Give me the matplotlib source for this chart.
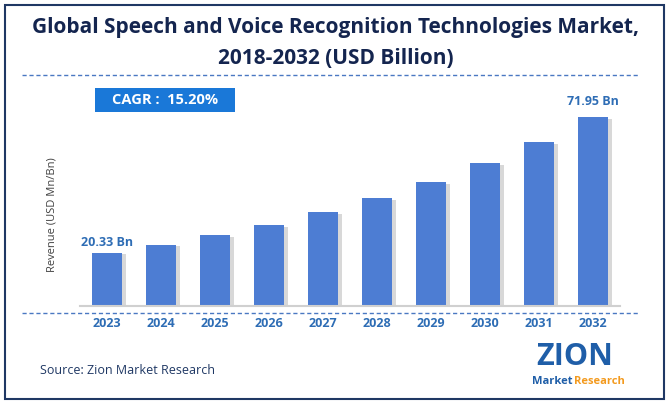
import matplotlib
matplotlib.use("Agg")
import matplotlib.pyplot as plt
from matplotlib.patches import Rectangle
from matplotlib.lines import Line2D

years = ["2023", "2024", "2025", "2026", "2027", "2028", "2029", "2030", "2031", "2032"]
values = [20.33, 23.4, 26.9, 30.8, 35.6, 41.0, 47.1, 54.4, 62.4, 71.95]
first_label = "20.33 Bn"
last_label = "71.95 Bn"
cagr_text = "CAGR :  15.20%"
title = "Global Speech and Voice Recognition Technologies Market,\n2018-2032 (USD Billion)"
ylabel = "Revenue (USD Mn/Bn)"
source = "Source: Zion Market Research"

W, H = 671, 408
fig = plt.figure(figsize=(W / 100, H / 100), dpi=100)
plt.rcParams['font.family'] = ['Open Sans', 'DejaVu Sans']

def fx(x):
    return x / W

def fy(y):
    return 1 - y / H

# border
fig.patches.append(Rectangle((fx(5), fy(399)), fx(659), 394 / H, transform=fig.transFigure,
                             fill=False, edgecolor="#1f3864", linewidth=1.5))

fig.text(0.5, fy(28), title.split("\n")[0], ha="center", va="center", fontsize=15, fontweight="bold",
         color="#14254f")
fig.text(0.5, fy(58), title.split("\n")[1], ha="center", va="center", fontsize=15, fontweight="bold",
         color="#14254f")

fig.add_artist(Line2D([fx(22), fx(640)], [fy(75), fy(75)], transform=fig.transFigure,
                      color="#4a78c2", linestyle=(0, (3, 2)), linewidth=1))

# axes
ax_left, ax_right = 80, 620
ax_bottom, ax_top = 306, 100
ax = fig.add_axes([fx(ax_left), fy(ax_bottom), (ax_right - ax_left) / W, (ax_bottom - ax_top) / H])
x = range(len(years))
ymax = values[-1] * (ax_bottom - ax_top) / (ax_bottom - 117)
ax.set_ylim(0, ymax)
ax.set_xlim(-0.5, len(years) - 0.5)
bw = 0.57
# shadow
ax.bar([i + 0.06 for i in x], [v - 0.6 for v in values], width=bw, color="#cfcfcf", alpha=0.8, zorder=1)
ax.bar(x, values, width=bw, color="#4d7dd3", zorder=2)
for s in ax.spines.values():
    s.set_visible(False)
ax.spines["bottom"].set_visible(True)
ax.spines["bottom"].set_color("#d0d0d0")
ax.spines["bottom"].set_linewidth(1.5)
ax.set_yticks([])
ax.set_xticks(list(x))
ax.set_xticklabels(years, fontsize=9, fontweight="bold", color="#2e6db5")
ax.tick_params(axis="x", length=0, pad=8)
ax.patch.set_alpha(0)

ax.text(0, values[0] + 1.5, first_label, ha="center", va="bottom", fontsize=9,
        fontweight="bold", color="#2e6db5")
ax.text(len(years) - 1, values[-1] + 3.5, last_label, ha="center", va="bottom", fontsize=9,
        fontweight="bold", color="#2e6db5")

fig.add_artist(Line2D([fx(22), fx(640)], [fy(313), fy(313)], transform=fig.transFigure,
                      color="#4a78c2", linestyle=(0, (3, 2)), linewidth=1))

fig.text(fx(52), fy(215), ylabel, rotation=90, ha="center", va="center", fontsize=8, color="#404040")

# CAGR box
fig.patches.append(Rectangle((fx(95), fy(112)), fx(140), 24 / H, transform=fig.transFigure,
                             facecolor="#1a78d8", edgecolor="none"))
fig.text(fx(165), fy(100), cagr_text, ha="center", va="center", fontsize=10.5,
         fontweight="bold", color="white")

fig.text(fx(40), fy(371), source, ha="left", va="center", fontsize=9, color="#1f3864")

# logo
fig.text(fx(575), fy(357), "ZION", ha="center", va="center", fontsize=22, fontweight="bold",
         color="#1f5ea8")
fig.text(fx(552), fy(382), "Market", ha="center", va="center", fontsize=8, fontweight="bold",
         color="#1f5ea8")
fig.text(fx(599), fy(382), "Research", ha="center", va="center", fontsize=8, fontweight="bold",
         color="#f39a1e")

fig.savefig("out.png", dpi=100)
